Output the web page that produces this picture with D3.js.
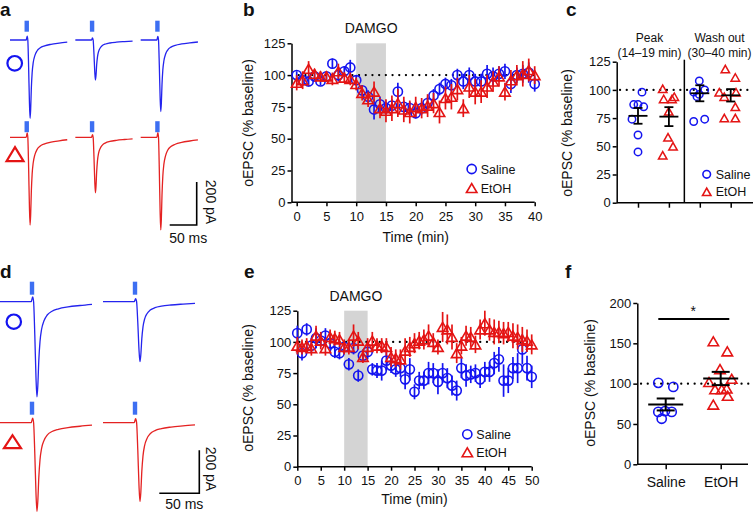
<!DOCTYPE html>
<html><head><meta charset="utf-8">
<script src="https://cdn.jsdelivr.net/npm/d3@7"></script>
<style>
body{margin:0;background:#fff}
svg{display:block}
text{font-family:"Liberation Sans",Arial,Helvetica,sans-serif;fill:#111}
</style></head>
<body><svg id="fig" width="754" height="512"></svg>
<script>
// ================= DATA =================
// Panel b: time course (0-40 min)
const bTime = d3.range(0, 41);
const bSaline    = [100,96,95,99,95,99,109,100,103,106,96,88,83,73,77,74,76,87,75,74,70,74,78,84,89,93,92,100,95,100,95,95,101,99,101,103,93,100,101,102,93];
const bSalineSem = [3,4,4,3,3,3,4,5,4,6,4,4,5,8,6,5,5,7,5,5,4,5,5,5,5,5,5,5,6,6,6,6,7,7,6,6,7,6,7,8,6];
const bEtoh      = [94,96,105,101,99,99,97,103,98,97,93,86,81,87,74,72,74,78,73,71,75,74,76,78,71,82,83,89,74,91,87,87,91,95,99,87,96,100,101,104,100];
const bEtohSem   = [6,7,6,4,4,4,5,6,4,5,5,6,6,8,8,9,10,11,10,9,8,8,9,8,9,9,10,9,7,9,10,9,9,8,8,7,8,8,10,9,7];
const bDamgo = [10, 15];

// Panel c: individual cells
const cGroups = ["Peak Saline","Peak EtOH","Wash Saline","Wash EtOH"];
const cPeakSaline = [98,87,87,85,74,60,45];
const cPeakEtoh   = [101,92,92,94,81,58,50,42];
const cWashSaline = [108,98,96,100,94,72,74];
const cWashEtoh   = [118.5,111,98,94,98,85,75,75];
const cMeans = [77, 76.3, 97, 95.2];
const cSems  = [7, 8.4, 7.1, 5.5];
// horizontal scatter offsets (px) only to spread overlapping points
const cJitter = [
  [4,-4.3,0,5.7,-6,0,0],
  [-6.2,-5.2,3.1,5.4,-0.2,-0.9,4.1,-6.2],
  [-0.5,-6.1,-0.5,4.9,-2.8,-6.1,4.9],
  [-5.4,4.6,-11.4,-6.4,5.3,4.6,-6.4,4.6]
];

// Panel e: time course (0-50 min)
const eTime = d3.range(0, 51);
const eSaline    = [107,91,110,97,103,101,105,99,92,91,96,82,95,73,89,92,78,77,77,85,81,78,79,70,78,60,69,69,75,75,68,75,71,65,61,79,73,74,75,70,76,76,83,86,69,69,79,79,94,79,72];
const eSalineSem = [6,6,5,6,8,5,6,5,5,5,4,5,5,5,5,6,5,6,8,8,6,6,7,8,9,6,7,7,9,8,10,8,8,8,8,8,9,7,7,7,8,8,9,10,13,10,9,12,12,10,9];
const eEtoh      = [97,96,97,95,105,101,95,104,103,102,96,96,105,101,88,96,101,97,97,96,88,87,86,93,96,99,101,102,105,100,96,112,110,104,91,97,105,104,98,110,115,110,108,108,107,108,105,104,102,101,98];
const eEtohSem   = [7,6,6,6,8,7,6,6,6,6,6,6,9,7,5,7,7,6,6,7,8,7,8,10,8,8,7,8,9,7,6,12,12,10,8,7,8,8,7,8,10,9,10,9,9,8,10,10,10,9,8];
const eDamgo = [10, 15];

// Panel f
const fGroups = ["Saline","EtOH"];
const fSaline = [101,96,65,66,65,56.5];
const fEtoh   = [152.5,140,118,106,102,93,93,94,85,74];
const fMeans = [74.2, 106.4];
const fSems  = [7.4, 8.2];
const fJitter = [[-7.4,7.6,-7.4,-0.7,6,-4],[-7.4,6.6,-0.7,11,-11.7,-5.7,1,6,7,-7.4]];

// Example traces: normalised waveform (ms after light pulse, fraction of peak)
const traceShape = [[-40,0],[-1,0],[0.8,-0.05],[2,0],[3.5,0.35],[5,0.8],[6.2,1],[7.3,0.88],[8.5,0.62],[10,0.42],[12,0.29],[15,0.2],[19,0.14],[25,0.1],[33,0.075],[45,0.055],[60,0.04],[75,0.028],[90,0.02]];
const aSalineAmp = [364,186,333];   // pA
const aEtohAmp   = [408,258,431];
const dSalineAmp = [442,279];
const dEtohAmp   = [412,367];

// ================= DRAW =================
const svg = d3.select("#fig");
const BLUE = "#1414f0", RED = "#e41414", STIM = "#3d6ff2", TBLUE = "#2424ee", TRED = "#e42222";
const FS = 13;

function tri(cx, cy, w, h){ return `M${cx-w/2},${cy+h/2}L${cx},${cy-h/2}L${cx+w/2},${cy+h/2}Z`; }

function styleAxis(g){
  g.selectAll("path,line").attr("stroke","#000").attr("stroke-width",1.5);
  g.selectAll("text").attr("font-size",FS).attr("fill","#111").style("font-family",'"Liberation Sans",Arial,sans-serif');
}
function letter(t,x,y){ svg.append("text").attr("x",x).attr("y",y).attr("font-size",19).attr("font-weight","bold").text(t); }
function dotted(x1,x2,y){
  svg.append("line").attr("x1",x1).attr("x2",x2).attr("y1",y).attr("y2",y)
    .attr("stroke","#000").attr("stroke-width",2.2).attr("stroke-dasharray","0.1,6.6").attr("stroke-linecap","round");
}
function yTitle(x,y,t){
  svg.append("text").attr("transform",`translate(${x},${y}) rotate(-90)`).attr("text-anchor","middle").attr("font-size",14).text(t);
}
function legend(x,y,gap,fs,r,tw,th){
  svg.append("circle").attr("cx",x).attr("cy",y).attr("r",r).attr("fill","none").attr("stroke",BLUE).attr("stroke-width",1.6);
  svg.append("path").attr("d",tri(x,y+gap,tw,th)).attr("fill","none").attr("stroke",RED).attr("stroke-width",1.6);
  svg.append("text").attr("x",x+9).attr("y",y+4.5).attr("font-size",fs).text("Saline");
  svg.append("text").attr("x",x+9).attr("y",y+gap+4.5).attr("font-size",fs).text("EtOH");
}

function timeCourse(o){
  const {x,y,time,sal,salSem,et,etSem,damgo,axisX,xticks} = o;
  svg.append("rect").attr("x",x(damgo[0])).attr("width",x(damgo[1])-x(damgo[0]))
    .attr("y",y(125)).attr("height",y(0)-y(125)).attr("fill","#d4d4d4");
  svg.append("text").attr("x",(x(damgo[0])+x(damgo[1]))/2).attr("y",y(125)-10).attr("text-anchor","middle").attr("font-size",14).text("DAMGO");
  dotted(x(0)+2, x.range()[1]+2, y(100));
  const gy = svg.append("g").attr("transform",`translate(${axisX},0)`)
    .call(d3.axisLeft(y).tickValues([0,25,50,75,100,125]).tickSize(4).tickPadding(2).tickSizeOuter(0));
  styleAxis(gy);
  const gx = svg.append("g").attr("transform",`translate(0,${y(0)})`)
    .call(d3.axisBottom(x).tickValues(xticks).tickSize(4).tickPadding(5).tickSizeOuter(0));
  gx.select(".domain").remove();
  gx.append("line").attr("x1",axisX).attr("x2",x.range()[1]).attr("y1",0).attr("y2",0);
  styleAxis(gx);
  const draw = (vals, sems, col, shape) => {
    const g = svg.append("g");
    vals.forEach((v,i)=>{
      g.append("line").attr("x1",x(time[i])).attr("x2",x(time[i]))
        .attr("y1",y(v-sems[i])).attr("y2",y(v+sems[i])).attr("stroke",col).attr("stroke-width",1.7);
    });
    vals.forEach((v,i)=>{
      if(shape==="c") g.append("circle").attr("cx",x(time[i])).attr("cy",y(v)).attr("r",4.6).attr("fill","none").attr("stroke",col).attr("stroke-width",1.6);
      else g.append("path").attr("d",tri(x(time[i]),y(v),10.5,9)).attr("fill","none").attr("stroke",col).attr("stroke-width",1.6);
    });
  };
  draw(sal,salSem,BLUE,"c");
  draw(et,etSem,RED,"t");
}

// ---------- panel b ----------
const xB = d3.scaleLinear().domain([0,40]).range([296.7,534.7]);
const yB = d3.scaleLinear().domain([0,125]).range([202.3,43.3]);
timeCourse({x:xB,y:yB,time:bTime,sal:bSaline,salSem:bSalineSem,et:bEtoh,etSem:bEtohSem,damgo:bDamgo,axisX:291.5,xticks:d3.range(0,41,5)});
yTitle(253,123,"oEPSC (% baseline)");
svg.append("text").attr("x",415.7).attr("y",242).attr("text-anchor","middle").attr("font-size",14).text("Time (min)");
legend(471.7,169,19,12.5,4.6,10.5,9);
letter("b",243,16);

// ---------- panel e ----------
const xE = d3.scaleLinear().domain([0,50]).range([297.3,531.7]);
const yE = d3.scaleLinear().domain([0,125]).range([466.7,310.7]);
timeCourse({x:xE,y:yE,time:eTime,sal:eSaline,salSem:eSalineSem,et:eEtoh,etSem:eEtohSem,damgo:eDamgo,axisX:297.3,xticks:d3.range(0,51,5)});
yTitle(253,388,"oEPSC (% baseline)");
svg.append("text").attr("x",414.5).attr("y",504).attr("text-anchor","middle").attr("font-size",14).text("Time (min)");
legend(467.3,434.3,18,12.5,4.6,10.5,9);
letter("e",244,278);

// ---------- panel c ----------
const xC = d3.scalePoint().domain(cGroups).range([638,730.7]);
const yC = d3.scaleLinear().domain([0,125]).range([202.7,61.7]);
{
  dotted(620, 750, yC(100));
  const gy = svg.append("g").attr("transform","translate(616.7,0)")
    .call(d3.axisLeft(yC).tickValues([0,25,50,75,100,125]).tickSize(4).tickPadding(2).tickSizeOuter(0));
  styleAxis(gy);
  const gx = svg.append("g").attr("transform",`translate(0,${yC(0)})`)
    .call(d3.axisBottom(xC).tickSize(5).tickFormat("").tickSizeOuter(0));
  gx.select(".domain").remove();
  gx.append("line").attr("x1",616.7).attr("x2",753).attr("y1",0).attr("y2",0);
  styleAxis(gx);
  const mid = (xC(cGroups[1])+xC(cGroups[2]))/2;
  svg.append("line").attr("x1",mid).attr("x2",mid).attr("y1",yC(125)-2).attr("y2",yC(0)).attr("stroke","#000").attr("stroke-width",1.5);
  const sets = [cPeakSaline,cPeakEtoh,cWashSaline,cWashEtoh];
  sets.forEach((vals,gi)=>{
    const cx = xC(cGroups[gi]);
    const col = gi%2===0 ? BLUE : RED;
    vals.forEach((v,i)=>{
      const px = cx + cJitter[gi][i];
      if(gi%2===0) svg.append("circle").attr("cx",px).attr("cy",yC(v)).attr("r",3.7).attr("fill","none").attr("stroke",col).attr("stroke-width",1.5);
      else svg.append("path").attr("d",tri(px,yC(v),8.5,7.5)).attr("fill","none").attr("stroke",col).attr("stroke-width",1.5);
    });
    const m = cMeans[gi], s = cSems[gi];
    const g = svg.append("g").attr("stroke","#000").attr("stroke-width",1.8);
    g.append("line").attr("x1",cx-9.5).attr("x2",cx+9.5).attr("y1",yC(m)).attr("y2",yC(m));
    g.append("line").attr("x1",cx).attr("x2",cx).attr("y1",yC(m-s)).attr("y2",yC(m+s));
    g.append("line").attr("x1",cx-4.5).attr("x2",cx+4.5).attr("y1",yC(m-s)).attr("y2",yC(m-s));
    g.append("line").attr("x1",cx-4.5).attr("x2",cx+4.5).attr("y1",yC(m+s)).attr("y2",yC(m+s));
  });
  const hx1 = 649.5, hx2 = 719.5;
  svg.append("text").attr("x",hx1).attr("y",41.5).attr("text-anchor","middle").attr("font-size",12).text("Peak");
  svg.append("text").attr("x",hx1).attr("y",56.5).attr("text-anchor","middle").attr("font-size",12).text("(14–19 min)");
  svg.append("text").attr("x",hx2).attr("y",41.5).attr("text-anchor","middle").attr("font-size",12).text("Wash out");
  svg.append("text").attr("x",hx2).attr("y",56.5).attr("text-anchor","middle").attr("font-size",12).text("(30–40 min)");
  yTitle(572,133,"oEPSC (% baseline)");
  legend(706.7,174.3,17.5,12.5,3.8,8.5,7.5);
  letter("c",566,16);
}

// ---------- panel f ----------
const xF = d3.scalePoint().domain(fGroups).range([665.7,720.7]);
const yF = d3.scaleLinear().domain([0,200]).range([464.3,303]);
{
  dotted(641, 749, yF(100));
  const gy = svg.append("g").attr("transform","translate(637.3,0)")
    .call(d3.axisLeft(yF).tickValues([0,50,100,150,200]).tickSize(4).tickPadding(2).tickSizeOuter(0));
  styleAxis(gy);
  const gx = svg.append("g").attr("transform",`translate(0,${yF(0)})`)
    .call(d3.axisBottom(xF).tickSize(5).tickPadding(8).tickSizeOuter(0));
  gx.select(".domain").remove();
  gx.append("line").attr("x1",637.3).attr("x2",748).attr("y1",0).attr("y2",0);
  styleAxis(gx);
  gx.selectAll("text").attr("font-size",14);
  [fSaline,fEtoh].forEach((vals,gi)=>{
    const cx = xF(fGroups[gi]);
    vals.forEach((v,i)=>{
      const px = cx + fJitter[gi][i];
      if(gi===0) svg.append("circle").attr("cx",px).attr("cy",yF(v)).attr("r",4.6).attr("fill","none").attr("stroke",BLUE).attr("stroke-width",1.6);
      else svg.append("path").attr("d",tri(px,yF(v),10.5,9)).attr("fill","none").attr("stroke",RED).attr("stroke-width",1.6);
    });
    const m = fMeans[gi], s = fSems[gi];
    const g = svg.append("g").attr("stroke","#000").attr("stroke-width",2);
    g.append("line").attr("x1",cx-17.5).attr("x2",cx+17.5).attr("y1",yF(m)).attr("y2",yF(m));
    g.append("line").attr("x1",cx).attr("x2",cx).attr("y1",yF(m-s)).attr("y2",yF(m+s));
    g.append("line").attr("x1",cx-9).attr("x2",cx+9).attr("y1",yF(m-s)).attr("y2",yF(m-s));
    g.append("line").attr("x1",cx-9).attr("x2",cx+9).attr("y1",yF(m+s)).attr("y2",yF(m+s));
  });
  svg.append("line").attr("x1",658.3).attr("x2",729.3).attr("y1",319).attr("y2",319).attr("stroke","#000").attr("stroke-width",2);
  svg.append("text").attr("x",693.3).attr("y",316).attr("text-anchor","middle").attr("font-size",14).text("*");
  yTitle(594.5,383,"oEPSC (% baseline)");
  letter("f",565,278);
}

// ---------- traces (panels a, d) ----------
function traces(o){
  const {xs, pxPerMs, segStart, stimOff, pre, post, amps, base, col, stimY, stimH} = o;
  const pxPerPA = 43/200;
  amps.forEach((amp,k)=>{
    const x0 = xs + (segStart[k] + stimOff)*pxPerMs;
    const x = d3.scaleLinear().domain([0,1]).range([x0, x0+pxPerMs]);
    const y = d3.scaleLinear().domain([0,-1]).range([base, base+pxPerPA]);
    const pts = traceShape.filter(p=>p[0]>=-pre && p[0]<=post).map(p=>[p[0], -amp*p[1]]);
    if(pts[0][0] > -pre) pts.unshift([-pre,0]);
    const line = d3.line().x(d=>x(d[0])).y(d=>y(d[1])).curve(d3.curveMonotoneX);
    svg.append("path").attr("d",line(pts)).attr("fill","none").attr("stroke",col).attr("stroke-width",1.3);
    svg.append("rect").attr("x",x(0)-2.2).attr("width",4.4).attr("y",stimY).attr("height",stimH).attr("fill",STIM);
  });
}
// panel a
traces({xs:10, pxPerMs:0.54, segStart:[0,121,242], stimOff:31, pre:31, post:85, amps:aSalineAmp, base:40, col:TBLUE, stimY:20.7, stimH:11});
traces({xs:10, pxPerMs:0.54, segStart:[0,121,242], stimOff:31, pre:31, post:85, amps:aEtohAmp, base:137.3, col:TRED, stimY:121.2, stimH:11});
// panel d
traces({xs:0, pxPerMs:0.8, segStart:[0,128.75], stimOff:40, pre:40, post:85, amps:dSalineAmp, base:301.7, col:TBLUE, stimY:281.7, stimH:13});
traces({xs:0, pxPerMs:0.8, segStart:[0,128.75], stimOff:40, pre:40, post:85, amps:dEtohAmp, base:422.7, col:TRED, stimY:401.7, stimH:13});

// symbols
svg.append("circle").attr("cx",14.7).attr("cy",63.3).attr("r",7.3).attr("fill","none").attr("stroke",BLUE).attr("stroke-width",2.2);
svg.append("path").attr("d",tri(15,154.2,17,14)).attr("fill","none").attr("stroke",RED).attr("stroke-width",2.2);
svg.append("circle").attr("cx",13.8).attr("cy",321.7).attr("r",7.2).attr("fill","none").attr("stroke",BLUE).attr("stroke-width",2.2);
svg.append("path").attr("d",tri(12.5,441.7,17,13)).attr("fill","none").attr("stroke",RED).attr("stroke-width",2.2);

// scale bars
function scaleBar(xr, yb, pxPerMs, tx, ty, ly){
  const h = 43, w = 50*pxPerMs;
  svg.append("path").attr("d",`M${xr-w},${yb}H${xr}V${yb-h}`).attr("fill","none").attr("stroke","#000").attr("stroke-width",1.6);
  svg.append("text").attr("transform",`translate(${tx},${ty}) rotate(90)`).attr("text-anchor","middle").attr("font-size",14).text("200 pA");
  svg.append("text").attr("x",xr-w/2+5).attr("y",ly).attr("text-anchor","middle").attr("font-size",14).text("50 ms");
}
scaleBar(196.7,225,0.54,206,202,243);
scaleBar(199.3,493.3,0.8,206,469,508.5);

letter("a",0,16);
letter("d",0,278);
</script></body></html>
